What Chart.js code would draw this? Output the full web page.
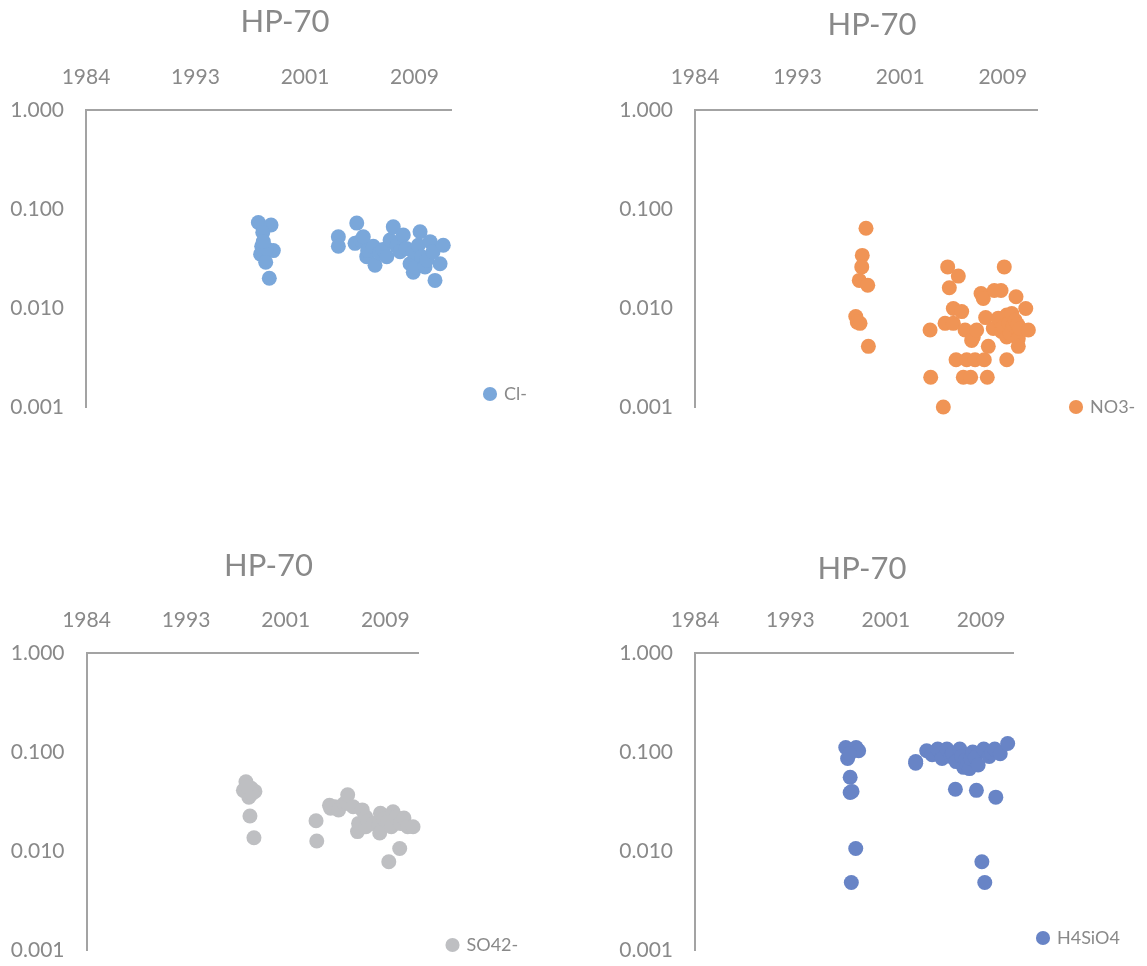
<!DOCTYPE html>
<html>
<head>
<meta charset="utf-8">
<script src="https://cdn.jsdelivr.net/npm/chart.js@4.4.0/dist/chart.umd.min.js"></script>
<style>
  body { margin: 0; background: #fff; }
  #wrap { position: relative; width: 1147px; height: 966px; overflow: hidden; }
  #wrap canvas { position: absolute; }
</style>
</head>
<body>
<div id="wrap">
  <canvas id="c1"></canvas>
  <canvas id="c2"></canvas>
  <canvas id="c3"></canvas>
  <canvas id="c4"></canvas>
</div>
<script>
const chartTitle = "HP-70";

// x axis is a date axis (decimal years), ticks every 3000 days
const xMin = 1984.87;
const xMax = 2012.25;
const xTickYears = [1984.87, 1993.08, 2001.30, 2009.51];
const xTickLabels = ["1984", "1993", "2001", "2009"];

const yTickValues = [0.001, 0.01, 0.1, 1];
const yTickLabels = ["0.001", "0.010", "0.100", "1.000"];

// Cl-
const clYears = [1997.80, 1998.75, 1998.13, 1998.05, 1998.92, 1997.97, 1998.35, 1998.62, 1998.40, 1998.17,
  2003.80, 2003.80, 2005.18, 2005.05, 2005.50, 2005.67, 2005.93, 2006.00, 2006.42, 2006.55, 2006.90, 2007.15,
  2007.43, 2007.68, 2007.92, 2008.18, 2008.43, 2008.67, 2008.90, 2009.18, 2009.42, 2009.42, 2009.60, 2009.80,
  2009.93, 2010.05, 2010.30, 2010.43, 2010.68, 2010.90, 2011.05, 2011.43, 2011.67];
const clValues = [0.073, 0.069, 0.058, 0.042, 0.038, 0.035, 0.029, 0.020, 0.040, 0.047,
  0.0525, 0.042, 0.072, 0.045, 0.048, 0.0525, 0.033, 0.038, 0.042, 0.027, 0.036, 0.039,
  0.033, 0.0486, 0.066, 0.042, 0.037, 0.0546, 0.040, 0.028, 0.023, 0.037, 0.026, 0.043,
  0.059, 0.033, 0.026, 0.0305, 0.0468, 0.037, 0.019, 0.028, 0.043];

// NO3-
const no3Years = [1998.56, 1998.26, 1998.22, 1998.02, 1998.70, 1997.74, 1997.86, 1998.08, 1998.75,
  2003.69, 2003.74, 2004.75, 2004.89, 2005.10, 2005.23, 2005.55, 2005.55, 2005.77, 2005.95, 2006.22,
  2006.35, 2006.49, 2006.62, 2006.94, 2007.02, 2007.15, 2007.29, 2007.42, 2007.77, 2007.95, 2008.03,
  2008.14, 2008.27, 2008.35, 2008.75, 2008.83, 2009.15, 2009.37, 2009.40, 2009.55, 2009.63, 2009.83,
  2009.83, 2009.83, 2010.00, 2010.10, 2010.23, 2010.35, 2010.50, 2010.57, 2010.70, 2010.75, 2010.75,
  2010.89, 2011.35, 2011.56];
const no3Values = [0.064, 0.034, 0.026, 0.019, 0.017, 0.0082, 0.0072, 0.0070, 0.0041,
  0.006, 0.002, 0.001, 0.007, 0.026, 0.016, 0.0099, 0.007, 0.003, 0.021, 0.0092,
  0.002, 0.006, 0.003, 0.002, 0.0047, 0.0051, 0.003, 0.006, 0.014, 0.0125, 0.003,
  0.008, 0.002, 0.0041, 0.0062, 0.015, 0.0079, 0.015, 0.0058, 0.0065, 0.026, 0.0085,
  0.0051, 0.003, 0.007, 0.0055, 0.0088, 0.0067, 0.0075, 0.013, 0.0068, 0.0049, 0.0041,
  0.0062, 0.0099, 0.006];

// SO42-
const so4Years = [1998.02, 1997.81, 1998.76, 1998.26, 1998.46, 1998.50, 1998.10, 1998.35, 1998.68,
  2003.80, 2003.86, 2004.91, 2005.00, 2005.36, 2005.66, 2006.11, 2006.30, 2006.41, 2006.86, 2007.22,
  2007.31, 2007.61, 2007.90, 2007.91, 2008.06, 2008.51, 2008.96, 2009.05, 2009.11, 2009.40, 2009.71,
  2009.80, 2010.01, 2010.15, 2010.40, 2010.70, 2010.76, 2011.05, 2011.36, 2011.80];
const so4Values = [0.050, 0.041, 0.040, 0.035, 0.043, 0.038, 0.045, 0.0226, 0.0136,
  0.0202, 0.0126, 0.029, 0.027, 0.028, 0.026, 0.030, 0.031, 0.037, 0.028, 0.0157,
  0.019, 0.026, 0.022, 0.0176, 0.020, 0.019, 0.018, 0.0152, 0.024, 0.021, 0.0197,
  0.0078, 0.0176, 0.0249, 0.022, 0.0106, 0.019, 0.0215, 0.0176, 0.0176];

// H4SiO4
const siYears = [1997.85, 1998.74, 1998.96, 1998.01, 1998.17, 1998.23, 1998.23, 1998.39, 1998.71, 1998.33,
  2003.87, 2003.87, 2004.82, 2005.29, 2005.77, 2006.14, 2006.56, 2006.88, 2007.04, 2007.29, 2007.35,
  2007.67, 2007.82, 2008.00, 2008.14, 2008.30, 2008.50, 2008.62, 2008.78, 2009.00, 2009.10, 2009.25,
  2009.57, 2009.73, 2009.82, 2010.20, 2010.40, 2010.68, 2010.77, 2011.15, 2011.79];
const siValues = [0.111, 0.111, 0.103, 0.086, 0.096, 0.0555, 0.039, 0.040, 0.0106, 0.0048,
  0.080, 0.077, 0.103, 0.094, 0.107, 0.086, 0.107, 0.090, 0.097, 0.042, 0.080,
  0.107, 0.090, 0.070, 0.083, 0.074, 0.068, 0.086, 0.100, 0.088, 0.041, 0.074,
  0.0078, 0.107, 0.0048, 0.090, 0.098, 0.107, 0.035, 0.096, 0.122];

const textGray = "#898989";
const axisGray = "#a3a3a3";
const fontFamily = "Lato, 'Open Sans', sans-serif";
const legendFont = 18;
const tickFont = 21;
const yTickPad = 22;

// where each panel's pieces sit on the page
const panels = [
  { id: "c1", name: "Cl-", years: clYears, values: clValues, color: "#7aa7da",
    top: 0, titleX: 285, titleY: 22, plotLeft: 86, plotTop: 110, plotRight: 451, plotBottom: 407, legendX: 490, legendY: 394 },
  { id: "c2", name: "NO3-", years: no3Years, values: no3Values, color: "#f09455",
    top: 0, titleX: 872, titleY: 25, plotLeft: 695, plotTop: 110, plotRight: 1037, plotBottom: 407, legendX: 1076, legendY: 407 },
  { id: "c3", name: "SO42-", years: so4Years, values: so4Values, color: "#bebfc2",
    top: 540, titleX: 268, titleY: 566, plotLeft: 86, plotTop: 653, plotRight: 418, plotBottom: 950, legendX: 452, legendY: 945 },
  { id: "c4", name: "H4SiO4", years: siYears, values: siValues, color: "#6884c6",
    top: 540, titleX: 862, titleY: 569, plotLeft: 695, plotTop: 653, plotRight: 1013, plotBottom: 950, legendX: 1043, legendY: 938 }
];

const measureCtx = document.createElement("canvas").getContext("2d");

function spacer(axis, position, weight, size) {
  return {
    type: "linear", axis: axis, position: position, weight: weight, display: true,
    grid: { display: false }, border: { display: false }, ticks: { display: false },
    afterFit: (s) => { if (axis === "x") s.height = size; else s.width = size; }
  };
}

function buildPanel(p) {
  const canvas = document.getElementById(p.id);

  // legend: item sits at legend.left + padding, its centre at legend.bottom - padding - font/2
  const legendPad = p.legendX - 5 - p.plotRight;
  const gapBottom = Math.max(0, p.legendY + legendPad + legendFont / 2 - p.plotBottom);
  const padBottom = Math.max(2, 36 - gapBottom);
  const height = p.plotBottom + gapBottom + padBottom - p.top;

  measureCtx.font = legendFont + "px " + fontFamily;
  const textW = measureCtx.measureText(p.name).width;
  const legendWidth = legendPad + 10 + legendFont / 2 + textW + 10;

  // canvas centred on the title; wide enough that the legend is not squeezed
  const width = Math.ceil(Math.max(570, 6 * legendWidth + 12));
  const left = p.titleX - width / 2;
  const outerRight = Math.max(0, width - (p.plotRight - left) - legendWidth);

  canvas.width = width;
  canvas.height = height;
  canvas.style.left = left + "px";
  canvas.style.top = p.top + "px";

  new Chart(canvas, {
    type: "scatter",
    data: {
      datasets: [{
        label: p.name,
        data: p.years.map((x, i) => ({ x: x, y: p.values[i] })),
        backgroundColor: p.color,
        borderColor: p.color,
        borderWidth: 0,
        pointRadius: 7.5,
        pointHoverRadius: 7.5,
        pointBorderWidth: 0,
        clip: false
      }]
    },
    options: {
      responsive: false,
      animation: false,
      layout: { padding: { left: 0, right: 0, top: 0, bottom: padBottom } },
      plugins: {
        title: {
          display: true,
          text: chartTitle,
          color: textGray,
          font: { family: fontFamily, size: 31, weight: "normal", lineHeight: 1.2 },
          padding: { top: p.titleY - p.top - 18.6, bottom: 0 }
        },
        legend: {
          display: true,
          position: "right",
          align: "end",
          labels: {
            usePointStyle: true,
            pointStyle: "circle",
            boxWidth: 10,
            boxHeight: 10,
            padding: legendPad,
            color: textGray,
            font: { family: fontFamily, size: legendFont }
          }
        },
        tooltip: { enabled: false }
      },
      scales: {
        x: {
          type: "linear",
          position: "top",
          min: xMin,
          max: xMax,
          grid: { display: true, drawOnChartArea: false, drawTicks: false },
          border: { display: true, color: axisGray, width: 2 },
          afterBuildTicks: (s) => { s.ticks = xTickYears.map((v) => ({ value: v })); },
          afterFit: (s) => { s.height = p.plotTop - p.titleY - 18.6; },
          ticks: {
            color: textGray,
            font: { family: fontFamily, size: tickFont },
            padding: 20,
            maxRotation: 0,
            autoSkip: false,
            callback: (v, i) => xTickLabels[i]
          }
        },
        y: {
          type: "logarithmic",
          position: "left",
          min: 0.001,
          max: 1,
          grid: { display: true, drawOnChartArea: false, drawTicks: false },
          border: { display: true, color: axisGray, width: 2 },
          afterBuildTicks: (s) => { s.ticks = yTickValues.map((v) => ({ value: v })); },
          afterFit: (s) => { s.width = p.plotLeft - left; },
          ticks: {
            color: textGray,
            font: { family: fontFamily, size: tickFont },
            padding: yTickPad,
            autoSkip: false,
            callback: (v, i) => yTickLabels[i]
          }
        },
        // empty strips: under the plot (legend sits a bit lower) and right of the legend
        gapB: spacer("x", "bottom", 0, gapBottom),
        outerR: spacer("y", "right", 2000, outerRight)
      }
    }
  });
}

panels.forEach(buildPanel);
</script>
</body>
</html>
